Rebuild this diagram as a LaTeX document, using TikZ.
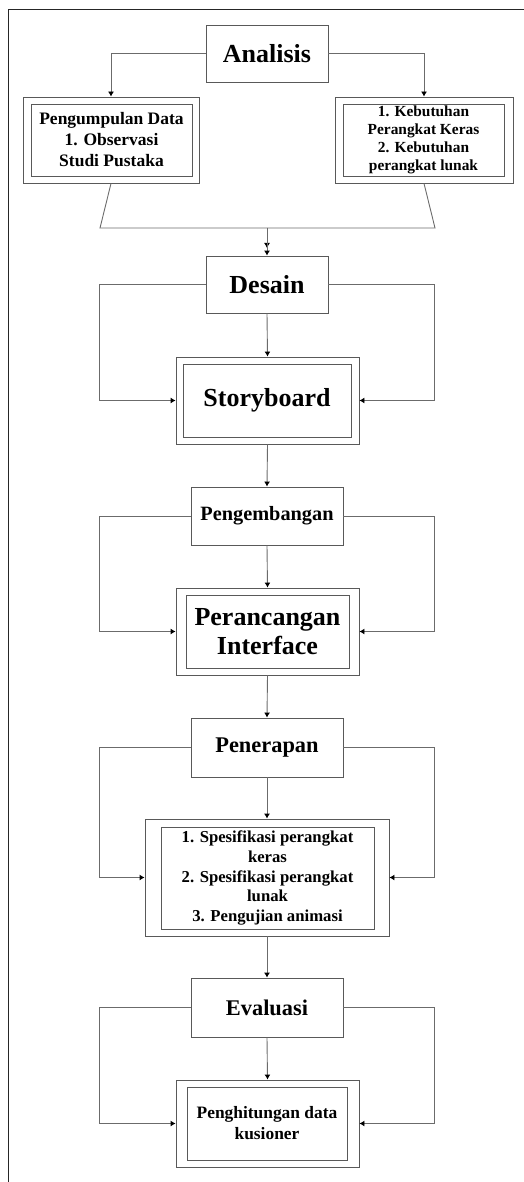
\documentclass[tikz,border=0pt]{standalone}
\usepackage{fontspec}
\setmainfont{Liberation Serif}
\usetikzlibrary{arrows.meta}
\definecolor{boxc}{gray}{0.35}
\definecolor{linec}{gray}{0.42}
\tikzset{
  bx/.style={draw=boxc, line width=0.9pt, inner sep=0pt, align=center, font=\bfseries},
  ln/.style={draw=linec, line width=0.9pt},
  ar/.style={ln, -{Latex[length=5pt,width=6pt,black]}},
  frame/.style={draw=black!85, line width=1pt},
}
\newcommand{\fs}[2]{\fontsize{#1}{#2}\selectfont}
\begin{document}
\begin{tikzpicture}[x=1pt,y=-1pt]
\useasboundingbox (0,0) rectangle (524,1182);
% frame
\draw[frame] (524,10) -- (8,10) -- (8,1182);
% Analisis
\node[bx, minimum width=122, minimum height=57, font=\bfseries\fs{26}{29}] (ana) at (267,53.5) {Analisis};
% left box
\node[bx, minimum width=176, minimum height=86] (lo) at (111,140) {};
\node[bx, minimum width=161, minimum height=72, font=\bfseries\fs{17.5}{21}] (li) at (111.5,140) {Pengumpulan Data\\1. Observasi\\Studi Pustaka};
% right box
\node[bx, minimum width=178, minimum height=86] (ro) at (424,140) {};
\node[bx, minimum width=161, minimum height=72, font=\bfseries\fs{15.4}{18}] (ri) at (423.5,140) {1. Kebutuhan\\Perangkat Keras\\2. Kebutuhan\\perangkat lunak};
\draw[ar] (ana.west) -| (lo.north);
\draw[ar] (ana.east) -| (ro.north);
% funnel
\coordinate (fl) at (100,228);
\coordinate (fr) at (435,228);
\coordinate (fm) at (267,228);
\coordinate (fa) at (267,248);
\draw[ln] (lo.south) -- (fl) -- (fr) -- (ro.south);
% Desain
\node[bx, minimum width=122, minimum height=57, font=\bfseries\fs{26}{29}] (des) at (267,284.5) {Desain};
\draw[ar] (fm) -- (fa);
\draw[ar] (fm) -- (des.north);
% Storyboard
\node[bx, minimum width=183, minimum height=87] (sbo) at (267.5,400.5) {};
\node[bx, minimum width=168, minimum height=73, font=\bfseries\fs{26}{29}] (sbi) at (267,400.5) {Storyboard};
\draw[ar] (des.south) -- (sbo.north);
\draw[ar] (des.west) -- (99,284.5) |- (sbo.west);
\draw[ar] (des.east) -- (434,284.5) |- (sbo.east);
% Pengembangan
\node[bx, minimum width=152, minimum height=58, font=\bfseries\fs{20.3}{24}] (peng) at (267,516) {Pengembangan};
\draw[ar] (sbo.south) -- (peng.north);
% Perancangan
\node[bx, minimum width=183, minimum height=87] (pio) at (267.5,631.5) {};
\node[bx, minimum width=163, minimum height=73, font=\bfseries\fs{26}{29}] (pii) at (267.5,631.5) {Perancangan\\Interface};
\draw[ar] (peng.south) -- (pio.north);
\draw[ar] (peng.west) -- (99,516) |- (pio.west);
\draw[ar] (peng.east) -- (434,516) |- (pio.east);
% Penerapan
\node[bx, minimum width=152, minimum height=59, font=\bfseries\fs{22.4}{26}] (pen) at (267,747.5) {Penerapan};
\draw[ar] (pio.south) -- (pen.north);
% Spec
\node[bx, minimum width=244, minimum height=117] (spo) at (267,877.5) {};
\node[bx, minimum width=213, minimum height=102, font=\bfseries\fs{16.7}{19.7}] (spi) at (267.5,878) {1. Spesifikasi perangkat\\keras\\2. Spesifikasi perangkat\\lunak\\3. Pengujian animasi};
\draw[ar] (pen.south) -- (spo.north);
\draw[ar] (pen.west) -- (99,747.5) |- (spo.west);
\draw[ar] (pen.east) -- (434,747.5) |- (spo.east);
% Evaluasi
\node[bx, minimum width=152, minimum height=59, font=\bfseries\fs{22.4}{26}] (eva) at (267,1007.5) {Evaluasi};
\draw[ar] (spo.south) -- (eva.north);
% Penghitungan
\node[bx, minimum width=183, minimum height=87] (pho) at (267.5,1123.5) {};
\node[bx, minimum width=160, minimum height=73, font=\bfseries\fs{17.4}{21}] (phi) at (267,1123.5) {Penghitungan data\\kusioner};
\draw[ar] (eva.south) -- (pho.north);
\draw[ar] (eva.west) -- (99,1007.5) |- (pho.west);
\draw[ar] (eva.east) -- (434,1007.5) |- (pho.east);
\end{tikzpicture}
\end{document}
